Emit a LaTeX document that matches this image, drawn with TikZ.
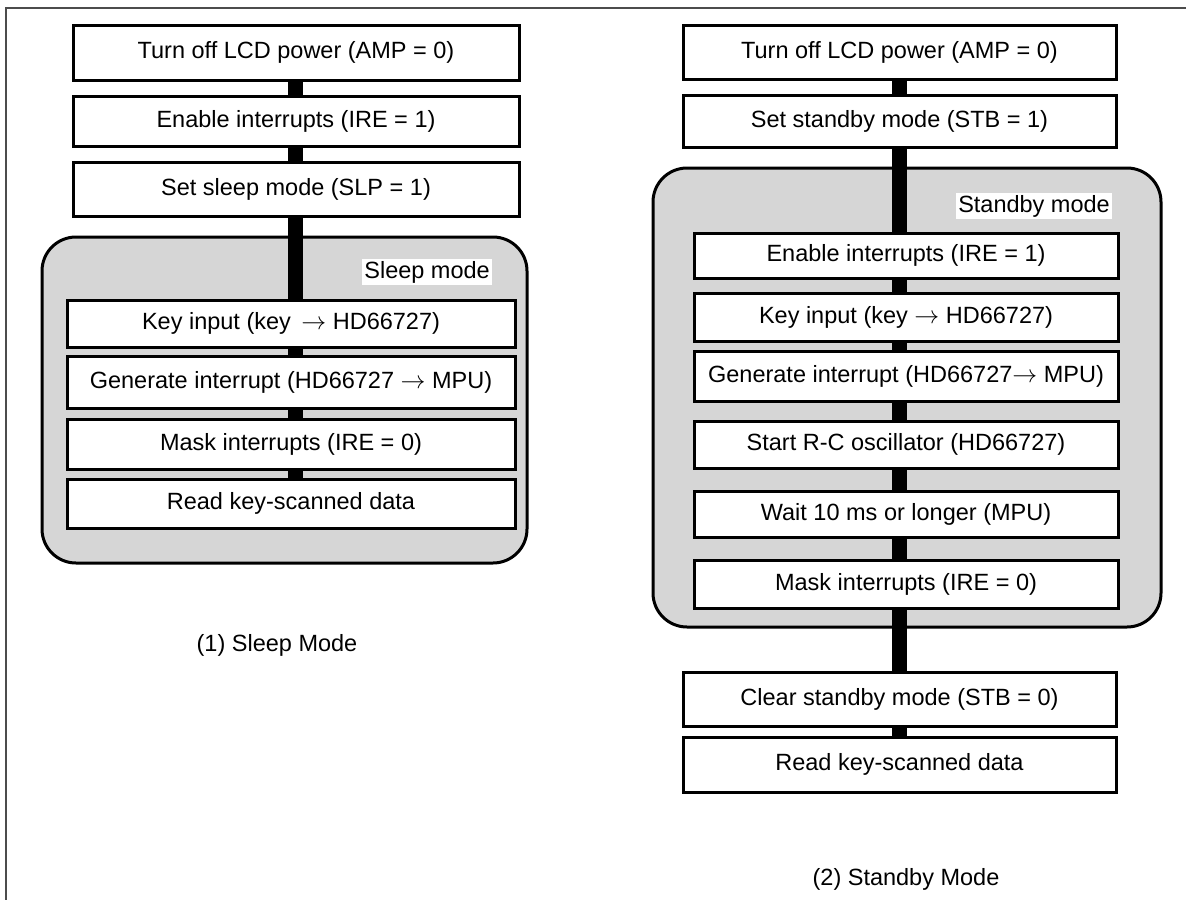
\documentclass[tikz,border=0pt]{standalone}
\usepackage{fontspec}
\setmainfont{Liberation Sans}
\pgfdeclarelayer{back}
\pgfdeclarelayer{mid}
\pgfsetlayers{back,mid,main}
\begin{document}
\begin{tikzpicture}[x=1pt,y=-1pt,
  txt/.style={font=\fontsize{23.5}{27}\selectfont},
  box/.style={draw, line width=3pt, fill=white, inner sep=0pt, txt, text height=17pt, text depth=5pt},
  obox/.style={box, minimum width=446pt},
  ibox/.style={box, minimum width=448pt},
  robox/.style={box, minimum width=433pt},
  ribox/.style={box, minimum width=424pt},
  modebox/.style={draw, line width=3pt, fill=black!16, rounded corners=34pt, inner sep=0pt},
  bar/.style={line width=15pt, black},
  lbl/.style={fill=white, inner sep=2pt, txt},
  frame/.style={draw=black!70, line width=2pt}]
\useasboundingbox (0,0) rectangle (1186,900);
\draw[frame] (1186,8) -- (6,8) -- (6,900);

\begin{pgfonlayer}{back}
\node[modebox, minimum width=485pt, minimum height=326pt] (S) at (284.5,400) {};
\node[modebox, minimum width=508pt, minimum height=459pt] (T) at (907,397.5) {};
\end{pgfonlayer}

% ---------- left: sleep mode ----------
\node[obox, minimum height=55pt] (L1) at (296,52.5) {Turn off LCD power (AMP = 0)};
\node[obox, minimum height=50pt] (L2) at (296,121) {Enable interrupts (IRE = 1)};
\node[obox, minimum height=54pt] (L3) at (296,189) {Set sleep mode (SLP = 1)};
\node[lbl, anchor=east] (SL) at (492,272) {Sleep mode};
\node[ibox, minimum height=47pt] (L4) at (291,323.5) {Key input (key\, $\rightarrow$ HD66727)};
\node[ibox, minimum height=52pt] (L5) at (291,382) {Generate interrupt (HD66727 $\rightarrow$ MPU)};
\node[ibox, minimum height=50pt] (L6) at (291,444) {Mask interrupts (IRE = 0)};
\node[ibox, minimum height=49pt] (L7) at (291,503.5) {Read key-scanned data};
\node[txt] (CL) at (277,645) {(1) Sleep Mode};
\coordinate (BL) at (295.5,0);

% ---------- right: standby mode ----------
\node[robox, minimum height=54pt] (R1) at (899.5,52) {Turn off LCD power (AMP = 0)};
\node[robox, minimum height=52pt] (R2) at (899.5,121) {Set standby mode (STB = 1)};
\node[lbl, anchor=east] (TL) at (1112,206) {Standby mode};
\node[ribox, minimum height=45pt] (R3) at (906,255.5) {Enable interrupts (IRE = 1)};
\node[ribox, minimum height=48pt] (R4) at (906,317) {Key input (key $\rightarrow$ HD66727)};
\node[ribox, minimum height=50pt] (R5) at (906,376) {Generate interrupt (HD66727$\rightarrow$ MPU)};
\node[ribox, minimum height=47pt] (R6) at (906,444.5) {Start R-C oscillator (HD66727)};
\node[ribox, minimum height=46pt] (R7) at (906,514) {Wait 10 ms or longer (MPU)};
\node[ribox, minimum height=48pt] (R8) at (906,584) {Mask interrupts (IRE = 0)};
\node[robox, minimum height=54pt] (R9) at (899.5,699) {Clear standby mode (STB = 0)};
\node[robox, minimum height=55pt] (R10) at (899.5,764.5) {Read key-scanned data};
\node[txt] (CR) at (906,879) {(2) Standby Mode};
\coordinate (BR) at (899,0);

% ---------- connectors (thick bars) ----------
\begin{pgfonlayer}{mid}
\foreach \a/\b in {L1/L2,L2/L3,L3/L4,L4/L5,L5/L6,L6/L7}
  \draw[bar] (\a.center -| BL) -- (\b.center -| BL);
\foreach \a/\b in {R1/R2,R2/R3,R3/R4,R4/R5,R5/R6,R6/R7,R7/R8,R8/R9,R9/R10}
  \draw[bar] (\a.center -| BR) -- (\b.center -| BR);
\end{pgfonlayer}
\end{tikzpicture}
\end{document}
